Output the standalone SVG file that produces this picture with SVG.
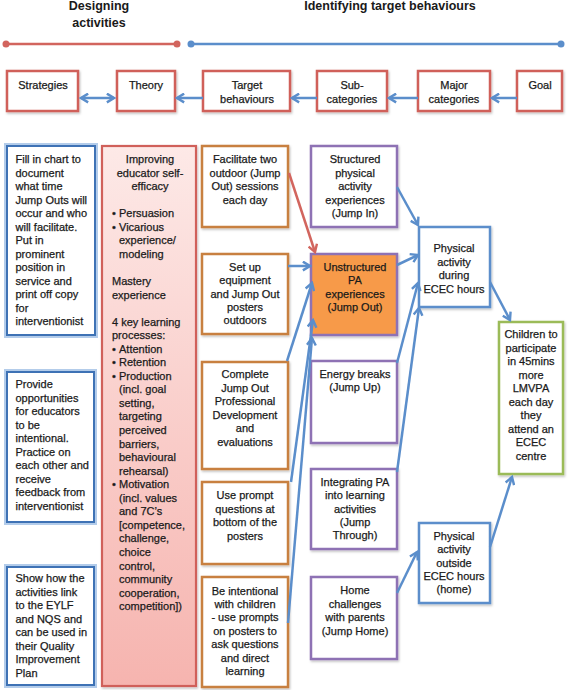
<svg xmlns="http://www.w3.org/2000/svg" width="568" height="690" viewBox="0 0 568 690">
<defs>
<style>
text{font-family:"Liberation Sans",Arial,sans-serif;font-size:11px;fill:#1a1a1a;stroke:#1a1a1a;stroke-width:0.25}
.h{font-weight:bold;font-size:12.5px;text-anchor:middle;stroke:none}
.c{text-anchor:middle}
.top{fill:#fff;stroke:#D0605A;stroke-width:2.5}
.strat{fill:#fff;stroke:#3E72B5;stroke-width:2}
.glow{fill:none;stroke:#B3CCEA;stroke-width:6}
.or{fill:#fff;stroke:#C8803F;stroke-width:2.5}
.pu{fill:#fff;stroke:#8E72B4;stroke-width:2.5}
.bl{fill:#fff;stroke:#5B8ECB;stroke-width:2.5}
.gr{fill:#fff;stroke:#9BBB59;stroke-width:2.5}
.ln{fill:none;stroke:#5B8ECB;stroke-width:2.5}
.lr{fill:none;stroke:#D2655E;stroke-width:2.5}
</style>
<marker id="ab" viewBox="0 0 10 10" refX="8" refY="5" markerWidth="11" markerHeight="11" markerUnits="userSpaceOnUse" orient="auto-start-reverse">
<path d="M1.5,1 L8,5 L1.5,9" fill="none" stroke="#5B8ECB" stroke-width="2.2"/>
</marker>
<marker id="ar" viewBox="0 0 10 10" refX="8" refY="5" markerWidth="11" markerHeight="11" markerUnits="userSpaceOnUse" orient="auto">
<path d="M1.5,1 L8,5 L1.5,9" fill="none" stroke="#D2655E" stroke-width="2.2"/>
</marker>
<linearGradient id="pink" x1="0" y1="0" x2="0" y2="1">
<stop offset="0" stop-color="#FDE9E7"/>
<stop offset="1" stop-color="#F6B4AF"/>
</linearGradient>
<filter id="sh" x="-10%" y="-10%" width="130%" height="130%">
<feDropShadow dx="1" dy="1.5" stdDeviation="1" flood-color="#000" flood-opacity="0.25"/>
</filter>
</defs>
<rect width="568" height="690" fill="#fff"/>

<g id="headers">
<text class="h" x="99" y="10">Designing</text>
<text class="h" x="99" y="26.5">activities</text>
<text class="h" x="390" y="9.5">Identifying target behaviours</text>
<line x1="6" y1="44" x2="177" y2="44" stroke="#D2655E" stroke-width="2.5"/>
<circle cx="6" cy="44" r="3.5" fill="#D2655E"/>
<circle cx="177" cy="44" r="3.5" fill="#D2655E"/>
<line x1="191" y1="44" x2="561" y2="44" stroke="#5B8ECB" stroke-width="2.5"/>
<circle cx="191" cy="44" r="3.5" fill="#5B8ECB"/>
<circle cx="561" cy="44" r="3.5" fill="#5B8ECB"/>
</g>

<g id="n-strategies-h"><rect class="top" x="7" y="71" width="71" height="40" filter="url(#sh)"/><text class="c" x="43" y="89">Strategies</text></g>
<g id="n-theory-h"><rect class="top" x="117" y="71" width="58" height="40" filter="url(#sh)"/><text class="c" x="146" y="89">Theory</text></g>
<g id="n-target-h"><rect class="top" x="203" y="71" width="87" height="40" filter="url(#sh)"/><text class="c" x="247" y="89">Target</text><text class="c" x="247" y="103">behaviours</text></g>
<g id="n-sub-h"><rect class="top" x="317" y="71" width="70" height="40" filter="url(#sh)"/><text class="c" x="352" y="89">Sub-</text><text class="c" x="352" y="103">categories</text></g>
<g id="n-major-h"><rect class="top" x="418" y="71" width="72" height="40" filter="url(#sh)"/><text class="c" x="454" y="89">Major</text><text class="c" x="454" y="103">categories</text></g>
<g id="n-goal-h"><rect class="top" x="517" y="71" width="45" height="40" filter="url(#sh)"/><text class="c" x="540" y="89">Goal</text></g>

<g id="n-strat1"><rect class="glow" x="7" y="146" width="88" height="189"/><rect class="strat" x="7" y="146" width="88" height="189"/>
<text x="15.5" y="163.3"><tspan x="15.5">Fill in chart to</tspan><tspan x="15.5" dy="13.5">document</tspan><tspan x="15.5" dy="13.5">what time</tspan><tspan x="15.5" dy="13.5">Jump Outs will</tspan><tspan x="15.5" dy="13.5">occur and who</tspan><tspan x="15.5" dy="13.5">will facilitate.</tspan><tspan x="15.5" dy="13.5">Put in</tspan><tspan x="15.5" dy="13.5">prominent</tspan><tspan x="15.5" dy="13.5">position in</tspan><tspan x="15.5" dy="13.5">service and</tspan><tspan x="15.5" dy="13.5">print off copy</tspan><tspan x="15.5" dy="13.5">for</tspan><tspan x="15.5" dy="13.5">interventionist</tspan></text></g>

<g id="n-strat2"><rect class="glow" x="7" y="372" width="87" height="150"/><rect class="strat" x="7" y="372" width="87" height="150"/>
<text x="15.5" y="388"><tspan x="15.5">Provide</tspan><tspan x="15.5" dy="13.5">opportunities</tspan><tspan x="15.5" dy="13.5">for educators</tspan><tspan x="15.5" dy="13.5">to be</tspan><tspan x="15.5" dy="13.5">intentional.</tspan><tspan x="15.5" dy="13.5">Practice on</tspan><tspan x="15.5" dy="13.5">each other and</tspan><tspan x="15.5" dy="13.5">receive</tspan><tspan x="15.5" dy="13.5">feedback from</tspan><tspan x="15.5" dy="13.5">interventionist</tspan></text></g>

<g id="n-strat3"><rect class="glow" x="7" y="567" width="87" height="118"/><rect class="strat" x="7" y="567" width="87" height="118"/>
<text x="15.5" y="582"><tspan x="15.5">Show how the</tspan><tspan x="15.5" dy="13.5">activities link</tspan><tspan x="15.5" dy="13.5">to the EYLF</tspan><tspan x="15.5" dy="13.5">and NQS and</tspan><tspan x="15.5" dy="13.5">can be used in</tspan><tspan x="15.5" dy="13.5">their Quality</tspan><tspan x="15.5" dy="13.5">Improvement</tspan><tspan x="15.5" dy="13.5">Plan</tspan></text></g>

<g id="n-theory">
<rect x="102" y="146" width="94" height="540" fill="url(#pink)" stroke="#D0605A" stroke-width="2.2" filter="url(#sh)"/>
<text class="c" x="150" y="163"><tspan x="150">Improving</tspan><tspan x="150" dy="13.55">educator self-</tspan><tspan x="150" dy="13.55">efficacy</tspan></text>
<text x="112" y="217"><tspan x="112">•</tspan><tspan x="119">Persuasion</tspan><tspan x="112" dy="13.55">•</tspan><tspan x="119">Vicarious</tspan><tspan x="119" dy="13.55">experience/</tspan><tspan x="119" dy="13.55">modeling</tspan></text>
<text x="112" y="285"><tspan x="112">Mastery</tspan><tspan x="112" dy="13.55">experience</tspan></text>
<text x="112" y="325.6"><tspan x="112">4 key learning</tspan><tspan x="112" dy="13.55">processes:</tspan>
<tspan x="112" dy="13.55">•</tspan><tspan x="119">Attention</tspan>
<tspan x="112" dy="13.55">•</tspan><tspan x="119">Retention</tspan>
<tspan x="112" dy="13.55">•</tspan><tspan x="119">Production</tspan>
<tspan x="119" dy="13.55">(incl. goal</tspan><tspan x="119" dy="13.55">setting,</tspan><tspan x="119" dy="13.55">targeting</tspan><tspan x="119" dy="13.55">perceived</tspan><tspan x="119" dy="13.55">barriers,</tspan><tspan x="119" dy="13.55">behavioural</tspan><tspan x="119" dy="13.55">rehearsal)</tspan>
<tspan x="112" dy="13.55">•</tspan><tspan x="119">Motivation</tspan>
<tspan x="119" dy="13.55">(incl. values</tspan><tspan x="119" dy="13.55">and 7C’s</tspan><tspan x="119" dy="13.55">[competence,</tspan><tspan x="119" dy="13.55">challenge,</tspan><tspan x="119" dy="13.55">choice</tspan><tspan x="119" dy="13.55">control,</tspan><tspan x="119" dy="13.55">community</tspan><tspan x="119" dy="13.55">cooperation,</tspan><tspan x="119" dy="13.55">competition])</tspan></text>
</g>

<g id="n-tb1"><rect class="or" x="202" y="146" width="86" height="81" filter="url(#sh)"/>
<text class="c" x="245" y="163"><tspan x="245">Facilitate two</tspan><tspan x="245" dy="13.5">outdoor (Jump</tspan><tspan x="245" dy="13.5">Out) sessions</tspan><tspan x="245" dy="13.5">each day</tspan></text></g>
<g id="n-tb2"><rect class="or" x="202" y="254" width="86" height="80" filter="url(#sh)"/>
<text class="c" x="245" y="271"><tspan x="245">Set up</tspan><tspan x="245" dy="13.3">equipment</tspan><tspan x="245" dy="13.3">and Jump Out</tspan><tspan x="245" dy="13.3">posters</tspan><tspan x="245" dy="13.3">outdoors</tspan></text></g>
<g id="n-tb3"><rect class="or" x="202" y="362" width="86" height="107" filter="url(#sh)"/>
<text class="c" x="245" y="378"><tspan x="245">Complete</tspan><tspan x="245" dy="13.5">Jump Out</tspan><tspan x="245" dy="13.5">Professional</tspan><tspan x="245" dy="13.5">Development</tspan><tspan x="245" dy="13.5">and</tspan><tspan x="245" dy="13.5">evaluations</tspan></text></g>
<g id="n-tb4"><rect class="or" x="202" y="482" width="86" height="82" filter="url(#sh)"/>
<text class="c" x="245" y="499"><tspan x="245">Use prompt</tspan><tspan x="245" dy="13.6">questions at</tspan><tspan x="245" dy="13.6">bottom of the</tspan><tspan x="245" dy="13.6">posters</tspan></text></g>
<g id="n-tb5"><rect class="or" x="202" y="577" width="86" height="110" filter="url(#sh)"/>
<text class="c" x="245" y="594.5"><tspan x="245">Be intentional</tspan><tspan x="245" dy="13.4">with children</tspan><tspan x="245" dy="13.4">- use prompts</tspan><tspan x="245" dy="13.4">on posters to</tspan><tspan x="245" dy="13.4">ask questions</tspan><tspan x="245" dy="13.4">and direct</tspan><tspan x="245" dy="13.4">learning</tspan></text></g>

<g id="n-sc1"><rect class="pu" x="311" y="146" width="86" height="81" filter="url(#sh)"/>
<text class="c" x="355" y="163"><tspan x="355">Structured</tspan><tspan x="355" dy="13.5">physical</tspan><tspan x="355" dy="13.5">activity</tspan><tspan x="355" dy="13.5">experiences</tspan><tspan x="355" dy="13.5">(Jump In)</tspan></text></g>
<g id="n-sc2"><rect x="311" y="254" width="86" height="81" fill="#F79A4A" stroke="#8E72B4" stroke-width="2.5" filter="url(#sh)"/>
<text class="c" x="355" y="271"><tspan x="355">Unstructured</tspan><tspan x="355" dy="13.4">PA</tspan><tspan x="355" dy="13.4">experiences</tspan><tspan x="355" dy="13.4">(Jump Out)</tspan></text></g>
<g id="n-sc3"><rect class="pu" x="311" y="361" width="86" height="82" filter="url(#sh)"/>
<text class="c" x="355" y="378"><tspan x="355">Energy breaks</tspan><tspan x="355" dy="13.4">(Jump Up)</tspan></text></g>
<g id="n-sc4"><rect class="pu" x="311" y="469" width="86" height="80" filter="url(#sh)"/>
<text class="c" x="355" y="486"><tspan x="355">Integrating PA</tspan><tspan x="355" dy="13.3">into learning</tspan><tspan x="355" dy="13.3">activities</tspan><tspan x="355" dy="13.3">(Jump</tspan><tspan x="355" dy="13.3">Through)</tspan></text></g>
<g id="n-sc5"><rect class="pu" x="311" y="577" width="86" height="82" filter="url(#sh)"/>
<text class="c" x="355" y="594"><tspan x="355">Home</tspan><tspan x="355" dy="13.6">challenges</tspan><tspan x="355" dy="13.6">with parents</tspan><tspan x="355" dy="13.6">(Jump Home)</tspan></text></g>

<g id="n-mc1"><rect class="bl" x="419" y="227" width="71" height="80" filter="url(#sh)"/>
<text class="c" x="454" y="252"><tspan x="454">Physical</tspan><tspan x="454" dy="13.5">activity</tspan><tspan x="454" dy="13.5">during</tspan><tspan x="454" dy="13.5">ECEC hours</tspan></text></g>
<g id="n-mc2"><rect class="bl" x="419" y="523" width="71" height="80" filter="url(#sh)"/>
<text class="c" x="454" y="540"><tspan x="454">Physical</tspan><tspan x="454" dy="13.3">activity</tspan><tspan x="454" dy="13.3">outside</tspan><tspan x="454" dy="13.3">ECEC hours</tspan><tspan x="454" dy="13.3">(home)</tspan></text></g>
<g id="n-goal"><rect class="gr" x="499" y="322" width="64" height="152" filter="url(#sh)"/>
<text class="c" x="531" y="338"><tspan x="531">Children to</tspan><tspan x="531" dy="13.55">participate</tspan><tspan x="531" dy="13.55">in 45mins</tspan><tspan x="531" dy="13.55">more</tspan><tspan x="531" dy="13.55">LMVPA</tspan><tspan x="531" dy="13.55">each day</tspan><tspan x="531" dy="13.55">they</tspan><tspan x="531" dy="13.55">attend an</tspan><tspan x="531" dy="13.55">ECEC</tspan><tspan x="531" dy="13.55">centre</tspan></text></g>

<g id="connectors">
<line class="ln" x1="81" y1="98" x2="114" y2="98" marker-start="url(#ab)" marker-end="url(#ab)"/>
<line class="ln" x1="203" y1="98" x2="177" y2="98" marker-end="url(#ab)"/>
<line class="ln" x1="317" y1="98" x2="292" y2="98" marker-end="url(#ab)"/>
<line class="ln" x1="418" y1="98" x2="389" y2="98" marker-end="url(#ab)"/>
<line class="ln" x1="517" y1="98" x2="492" y2="98" marker-end="url(#ab)"/>
<line class="lr" x1="289" y1="173" x2="315" y2="252" marker-end="url(#ar)"/>
<line class="ln" x1="288" y1="266" x2="310" y2="266" marker-end="url(#ab)"/>
<line class="ln" x1="287" y1="361" x2="312" y2="283" marker-end="url(#ab)"/>
<line class="ln" x1="291" y1="482" x2="313" y2="320" marker-end="url(#ab)"/>
<line class="ln" x1="288" y1="623" x2="312" y2="338" marker-end="url(#ab)"/>
<line class="ln" x1="397" y1="187" x2="418" y2="225" marker-end="url(#ab)"/>
<line class="ln" x1="397" y1="265" x2="418" y2="255" marker-end="url(#ab)"/>
<line class="ln" x1="397" y1="363" x2="418" y2="283" marker-end="url(#ab)"/>
<line class="ln" x1="397" y1="472" x2="419" y2="308" marker-end="url(#ab)"/>
<line class="ln" x1="397" y1="593" x2="417" y2="552" marker-end="url(#ab)"/>
<line class="ln" x1="490" y1="282" x2="510" y2="320" marker-end="url(#ab)"/>
<line class="ln" x1="490" y1="547" x2="512" y2="477" marker-end="url(#ab)"/>
</g>
</svg>
